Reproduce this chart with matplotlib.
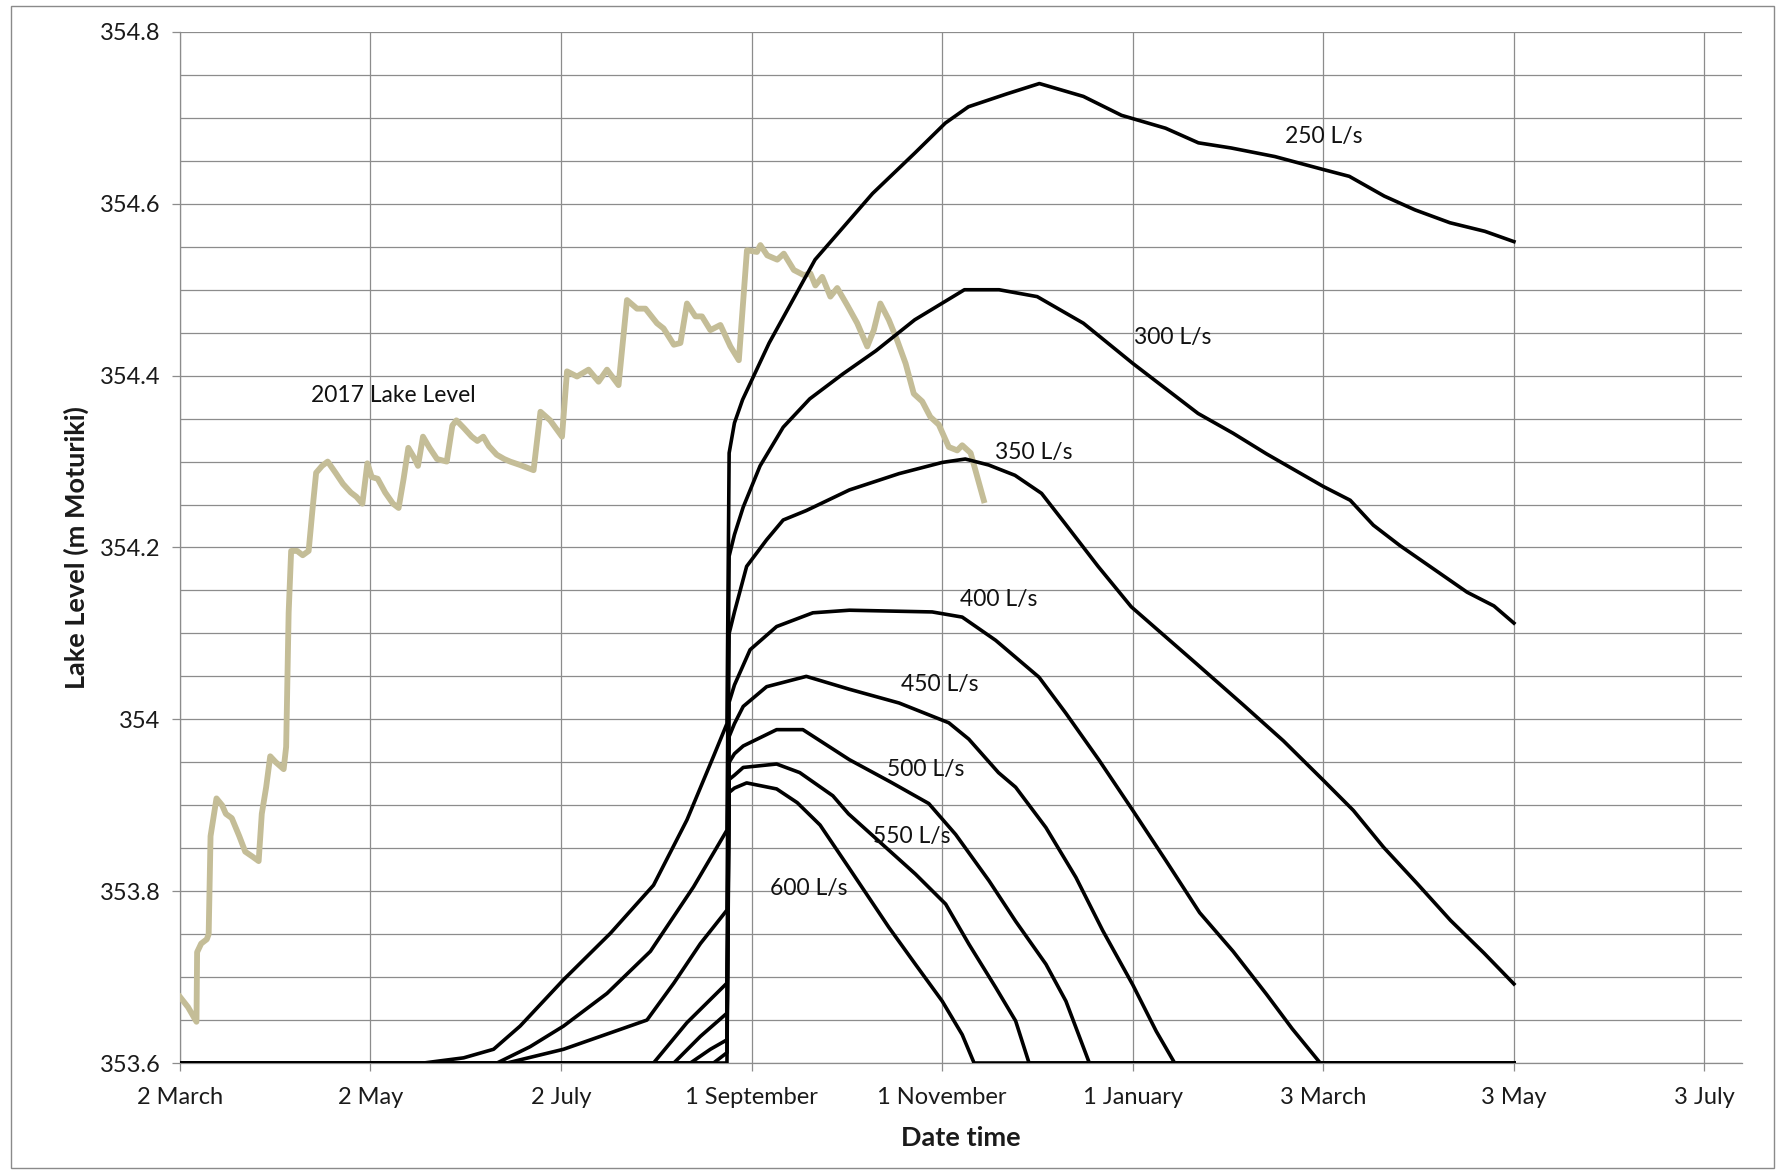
import matplotlib
matplotlib.use("Agg")

from datetime import datetime, timedelta

import matplotlib.dates as mdates
import matplotlib.pyplot as plt
import numpy as np
from matplotlib.patches import Rectangle

plt.rcParams["font.family"] = ["Lato", "DejaVu Sans"]

START = datetime(2017, 3, 2)

# 2017 observed lake level (days after 2 March 2017, m Moturiki)
lake_days = [0, 2.6, 5.3, 5.5, 6.8, 8.6, 9.2, 9.8, 11.7, 13.5, 14.7, 16.6, 19.0, 20.9,
             23.3, 25.2, 26.2, 27.6, 28.9, 30.7, 33.2, 34.0, 34.8, 35.6, 37.5, 39.3,
             41.2, 42.4, 43.6, 45.5, 47.3, 49.8, 52.2, 54.7, 56.5, 58.4, 60.0, 61.4,
             63.3, 65.7, 68.2, 70.0, 71.6, 73.1, 74.9, 76.2, 77.8, 79.9, 82.3, 85.4,
             87.2, 88.5, 90.9, 93.4, 95.2, 97.1, 98.9, 101.4, 103.8, 105.7, 108.9,
             113.2, 115.4, 118.5, 122.3, 123.9, 127.1, 130.8, 134.0, 136.7, 140.4,
             143.1, 146.3, 149.0, 152.7, 154.8, 158.1, 160.2, 162.3, 165.0, 167.1,
             169.8, 173.0, 176.2, 178.9, 181.5, 184.7, 185.8, 188.0, 191.2, 193.3,
             196.5, 199.7, 201.8, 203.4, 205.6, 208.2, 210.4, 213.6, 216.8, 220.0,
             222.1, 224.2, 226.9, 229.6, 232.3, 234.9, 237.6, 240.2, 242.9, 246.1,
             248.8, 250.4, 253.1, 257.3]
lake_level = [353.677, 353.665, 353.648, 353.729, 353.739, 353.744, 353.75, 353.864,
              353.908, 353.9, 353.89, 353.885, 353.864, 353.846, 353.84, 353.835,
              353.89, 353.921, 353.957, 353.95, 353.942, 353.968, 354.124, 354.196,
              354.196, 354.191, 354.196, 354.243, 354.287, 354.295, 354.3, 354.287,
              354.274, 354.264, 354.259, 354.251, 354.298, 354.282, 354.28, 354.264,
              354.251, 354.246, 354.28, 354.316, 354.305, 354.295, 354.329, 354.316,
              354.303, 354.3, 354.342, 354.348, 354.339, 354.329, 354.324, 354.329,
              354.318, 354.308, 354.303, 354.300, 354.296, 354.290, 354.358, 354.348,
              354.329, 354.405, 354.399, 354.407, 354.393, 354.407, 354.389, 354.488,
              354.478, 354.478, 354.461, 354.455, 354.436, 354.438, 354.484, 354.469,
              354.469, 354.453, 354.459, 354.434, 354.418, 354.546, 354.544, 354.552,
              354.540, 354.535, 354.542, 354.523, 354.517, 354.519, 354.505, 354.515,
              354.492, 354.502, 354.482, 354.461, 354.434, 354.453, 354.484, 354.465,
              354.441, 354.414, 354.379, 354.370, 354.352, 354.343, 354.317, 354.313,
              354.319, 354.310, 354.255]

# modelled lake level for each outflow
days_250 = [0, 78, 90.8, 100.4, 108.9, 122.8, 137.8, 151.6, 162.3, 170.8, 175.1, 175.8,
            177.5, 180.1, 188.6, 203.3, 221.7, 235.2, 245, 252.4, 264.7, 275.1, 289.2,
            301.4, 315.5, 326, 336.5, 350.5, 365.9, 374.3, 385.5, 395.3, 406.5, 417.7, 427]
level_250 = [353.6, 353.6, 353.606, 353.616, 353.643, 353.697, 353.751, 353.807, 353.883,
             353.957, 353.995, 354.31, 354.345, 354.372, 354.438, 354.535, 354.612, 354.659,
             354.694, 354.713, 354.728, 354.740, 354.725, 354.703, 354.688, 354.671,
             354.665, 354.655, 354.640, 354.632, 354.609, 354.593, 354.578, 354.568, 354.556]

days_300 = [0, 101.5, 112.1, 122.8, 136.7, 150.6, 164.4, 175.1, 175.8, 177.5, 180.3, 185.7,
            193.1, 201.6, 212.2, 222.8, 235.2, 251.1, 262.2, 274.4, 289.2, 305.1, 325.9,
            337.1, 347.8, 366, 374.6, 382, 390.6, 401.3, 412, 420.6, 427]
level_300 = [353.6, 353.6, 353.619, 353.643, 353.681, 353.730, 353.805, 353.871, 354.19,
             354.215, 354.247, 354.295, 354.340, 354.373, 354.402, 354.429, 354.465, 354.500,
             354.500, 354.492, 354.461, 354.414, 354.356, 354.333, 354.309, 354.271,
             354.255, 354.226, 354.202, 354.175, 354.148, 354.132, 354.112]

days_350 = [0, 104.7, 122.8, 149.5, 158.1, 166.6, 175.1, 175.8, 177.5, 181.4, 187.8, 193.1,
            200.5, 214.3, 230.2, 244, 251.4, 258.9, 267.3, 275.8, 283.3, 293.9, 304.5,
            325.3, 340.3, 353.2, 366, 375.6, 385.3, 396, 406.7, 417.4, 427]
level_350 = [353.6, 353.6, 353.616, 353.65, 353.693, 353.739, 353.778, 354.10, 354.125,
             354.178, 354.209, 354.232, 354.243, 354.267, 354.286, 354.299, 354.303, 354.296,
             354.284, 354.263, 354.228, 354.178, 354.131, 354.065, 354.017, 353.975,
             353.929, 353.894, 353.851, 353.809, 353.766, 353.728, 353.692]

days_400 = [0, 151.6, 162.3, 175.1, 175.8, 177.5, 182.5, 191, 202.6, 214.3, 240.8, 250.4,
            261.1, 275, 283.6, 294.3, 305, 315.7, 326.4, 337.1, 347.8, 356, 365, 427]
level_400 = [353.6, 353.6, 353.647, 353.693, 354.02, 354.04, 354.081, 354.108, 354.124,
             354.127, 354.125, 354.119, 354.092, 354.049, 354.007, 353.952, 353.894,
             353.835, 353.775, 353.73, 353.68, 353.64, 353.6, 353.6]

days_450 = [0, 158.1, 166.6, 175.1, 175.8, 177.5, 180.3, 187.8, 200.5, 214.3, 230.2, 246.1,
            252.5, 262, 267.5, 277.2, 286.8, 295.4, 305, 312.5, 318.4, 427]
level_450 = [353.6, 353.6, 353.631, 353.658, 353.98, 353.995, 354.015, 354.038, 354.05,
             354.035, 354.019, 353.996, 353.977, 353.938, 353.921, 353.874, 353.816,
             353.754, 353.691, 353.637, 353.6, 353.6]

days_500 = [0, 163.4, 169.8, 175.1, 175.8, 177.5, 180.3, 191, 199.4, 214.3, 227.5, 239.7,
            248.3, 259, 267.5, 277.2, 283.6, 291.1, 427]
level_500 = [353.6, 353.6, 353.616, 353.627, 353.95, 353.96, 353.969, 353.988, 353.988,
             353.953, 353.927, 353.902, 353.866, 353.812, 353.765, 353.715, 353.672,
             353.6, 353.6]

days_550 = [0, 170.8, 175.1, 175.8, 177.5, 180.3, 191, 198.4, 209, 214, 224.7, 235.4,
            245.1, 252.6, 261.1, 267.5, 271.8, 427]
level_550 = [353.6, 353.6, 353.612, 353.93, 353.935, 353.944, 353.948, 353.938, 353.911,
             353.89, 353.855, 353.82, 353.785, 353.738, 353.688, 353.649, 353.6, 353.6]

days_600 = [0, 175.1, 175.8, 177.5, 181.4, 191, 197.6, 204.9, 214, 226.9, 235.4, 244,
            250.4, 254.2, 427]
level_600 = [353.6, 353.6, 353.915, 353.92, 353.926, 353.919, 353.903, 353.877, 353.828,
             353.758, 353.715, 353.672, 353.633, 353.6, 353.6]

flow_labels = ["250 L/s", "300 L/s", "350 L/s", "400 L/s", "450 L/s", "500 L/s",
               "550 L/s", "600 L/s"]
label_days = [353.7, 305.5, 261, 249.7, 230.8, 226.4, 221.7, 188.9]
label_levels = [354.678, 354.445, 354.31, 354.139, 354.04, 353.942, 353.864, 353.803]

scenarios = [(days_250, level_250), (days_300, level_300), (days_350, level_350),
             (days_400, level_400), (days_450, level_450), (days_500, level_500),
             (days_550, level_550), (days_600, level_600)]


def to_x(days):
    return mdates.date2num(START) + np.asarray(days, dtype=float)


fig = plt.figure(figsize=(17.85, 11.72), dpi=100)
ax = fig.add_axes([0.1008, 0.0930, 0.8751, 0.8797])

grid_c = "#8c8c8c"
ax.plot(to_x(lake_days), lake_level, color="#c4bd97", lw=4.2, solid_joinstyle="round",
        zorder=3)
for d, lv in scenarios:
    ax.plot(to_x(d), lv, color="black", lw=2.6, solid_joinstyle="round", zorder=4)

ax.text(to_x(41.9), 354.377, "2017 Lake Level", fontsize=16.5, va="center", ha="left",
        color="#111111", zorder=5)
for lab, d, lv in zip(flow_labels, label_days, label_levels):
    ax.text(to_x(d), lv, lab, fontsize=16.5, va="center", ha="left", color="#111111",
            zorder=5)

ax.set_ylim(353.6, 354.8)
ax.set_xlim(to_x(0), to_x(500))
ax.set_yticks(np.arange(353.6, 354.81, 0.2))
ax.set_yticks(np.arange(353.6, 354.81, 0.05), minor=True)
ax.yaxis.set_major_formatter(plt.FuncFormatter(lambda v, p: f"{round(v, 1):g}"))
ax.tick_params(axis="y", which="minor", length=0)

tick_dates = [START + timedelta(days=61 * k) for k in range(9)]
ax.set_xticks(mdates.date2num(tick_dates))
ax.xaxis.set_major_formatter(mdates.DateFormatter("%-d %B"))

ax.grid(True, axis="y", which="both", color=grid_c, lw=0.9, zorder=0)
ax.grid(True, axis="x", which="major", color=grid_c, lw=0.9, zorder=0)
ax.set_axisbelow(True)

for s in ["top", "right"]:
    ax.spines[s].set_visible(False)
for s in ["left", "bottom"]:
    ax.spines[s].set_color(grid_c)
    ax.spines[s].set_linewidth(0.9)
ax.tick_params(axis="both", which="major", direction="out", length=6, width=0.9,
               color=grid_c, labelsize=17, labelcolor="#1a1a1a")
ax.tick_params(axis="y", which="major", pad=8)
ax.tick_params(axis="x", which="major", pad=11)

fig.text(0.043, 0.533, "Lake Level (m Moturiki)", rotation=90, ha="center", va="center",
         fontsize=19.5, fontweight="bold", color="#1a1a1a")
fig.text(0.538, 0.029, "Date time", ha="center", va="center", fontsize=19.5,
         fontweight="bold", color="#1a1a1a")

fig.patches.append(Rectangle((0.0062, 0.0035), 0.9877, 0.9914, transform=fig.transFigure,
                             fill=False, edgecolor="#8a8a8a", lw=1.0))

fig.savefig("out.png", dpi=100)
